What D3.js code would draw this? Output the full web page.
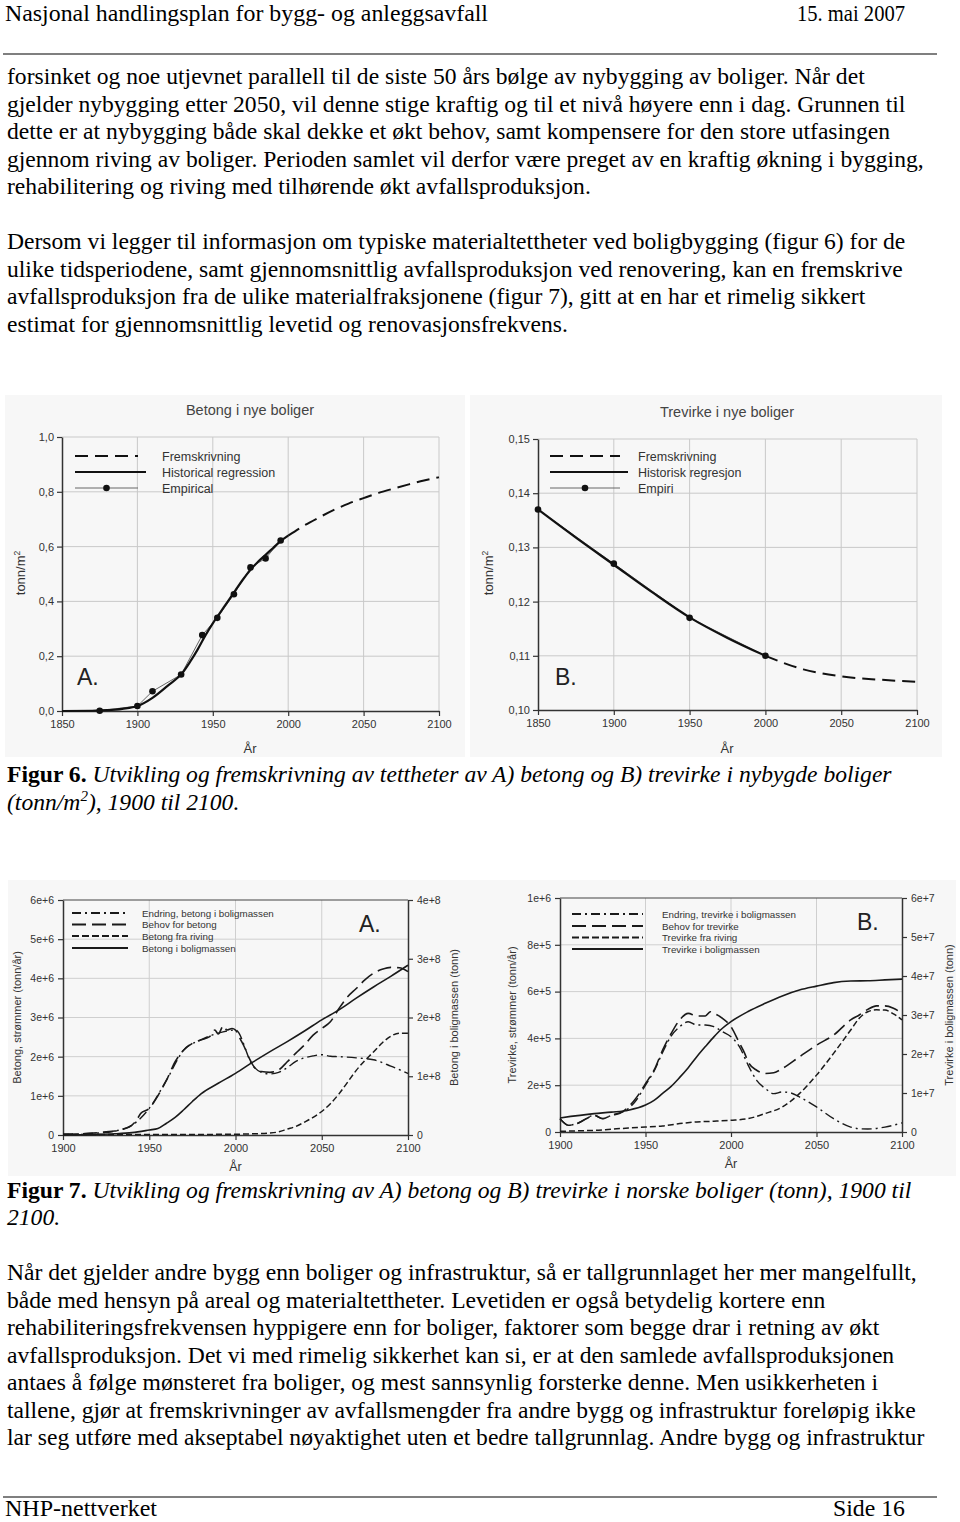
<!DOCTYPE html>
<html><head><meta charset="utf-8">
<script src="https://cdn.jsdelivr.net/npm/d3@7"></script>
<style>body{margin:0;background:#fff} svg{display:block}</style>
</head><body><svg id="page" width="960" height="1522"></svg>
<script>
// ---------- text content ----------
const headerLeft = "Nasjonal handlingsplan for bygg- og anleggsavfall";
const headerRight = "15. mai 2007";
const footerLeft = "NHP-nettverket";
const footerRight = "Side 16";
const para1 = [
  "forsinket og noe utjevnet parallell til de siste 50 års bølge av nybygging av boliger. Når det",
  "gjelder nybygging etter 2050, vil denne stige kraftig og til et nivå høyere enn i dag. Grunnen til",
  "dette er at nybygging både skal dekke et økt behov, samt kompensere for den store utfasingen",
  "gjennom riving av boliger. Perioden samlet vil derfor være preget av en kraftig økning i bygging,",
  "rehabilitering og riving med tilhørende økt avfallsproduksjon."
];
const para2 = [
  "Dersom vi legger til informasjon om typiske materialtettheter ved boligbygging (figur 6) for de",
  "ulike tidsperiodene, samt gjennomsnittlig avfallsproduksjon ved renovering, kan en fremskrive",
  "avfallsproduksjon fra de ulike materialfraksjonene (figur 7), gitt at en har et rimelig sikkert",
  "estimat for gjennomsnittlig levetid og renovasjonsfrekvens."
];
const para3 = [
  "Når det gjelder andre bygg enn boliger og infrastruktur, så er tallgrunnlaget her mer mangelfullt,",
  "både med hensyn på areal og materialtettheter. Levetiden er også betydelig kortere enn",
  "rehabiliteringsfrekvensen hyppigere enn for boliger, faktorer som begge drar i retning av økt",
  "avfallsproduksjon. Det vi med rimelig sikkerhet kan si, er at den samlede avfallsproduksjonen",
  "antaes å følge mønsteret fra boliger, og mest sannsynlig forsterke denne. Men usikkerheten i",
  "tallene, gjør at fremskrivninger av avfallsmengder fra andre bygg og infrastruktur foreløpig ikke",
  "lar seg utføre med akseptabel nøyaktighet uten et bedre tallgrunnlag. Andre bygg og infrastruktur"
];
const fig6Label = "Figur 6.";
const fig6Line1 = " Utvikling og fremskrivning av tettheter av A) betong og B) trevirke i nybygde boliger";
const fig6Line2 = ["(tonn/m", "2", "), 1900 til 2100."];
const fig7Label = "Figur 7.";
const fig7Line1 = " Utvikling og fremskrivning av A) betong og B) trevirke i norske boliger (tonn), 1900 til";
const fig7Line2 = "2100.";

// ---------- Figure 6 data ----------
const xTicks6 = [1850, 1900, 1950, 2000, 2050, 2100];
const yTicks6A = [0, 0.2, 0.4, 0.6, 0.8, 1.0];
const yTicks6B = [0.10, 0.11, 0.12, 0.13, 0.14, 0.15];

const betongRegYears = [1850,1870,1880,1890,1900,1910,1920,1930,1935,1940,1945,1950,1955,1960,1965,1970,1975,1980,1985,1990,1995,2000];
const betongReg = [0,0.001,0.003,0.008,0.018,0.048,0.092,0.14,0.18,0.225,0.275,0.32,0.36,0.40,0.44,0.48,0.515,0.545,0.57,0.595,0.62,0.64];
const betongProjYears = [2000,2010,2020,2030,2040,2050,2060,2070,2080,2090,2100];
const betongProj = [0.64,0.675,0.705,0.733,0.757,0.777,0.796,0.812,0.827,0.841,0.853];
const betongEmpYears = [1875,1900,1910,1929,1943,1953,1964,1975,1985,1995];
const betongEmp = [0.001,0.018,0.072,0.133,0.277,0.34,0.426,0.524,0.557,0.622];

const trevirkeRegYears = [1850,1875,1900,1925,1950,1975,2000];
const trevirkeReg = [0.137,0.1318,0.1268,0.1218,0.1171,0.1133,0.110];
const trevirkeProjYears = [2000,2025,2050,2075,2100];
const trevirkeProj = [0.110,0.1075,0.1062,0.1056,0.1052];
const trevirkeEmpYears = [1850,1900,1950,2000];
const trevirkeEmp = [0.137,0.127,0.117,0.110];

const legend6A = ["Fremskrivning", "Historical regression", "Empirical"];
const legend6B = ["Fremskrivning", "Historisk regresjon", "Empiri"];

// ---------- Figure 7 data ----------
const xTicks7 = [1900, 1950, 2000, 2050, 2100];
const yTicks7ALeft = [0,1,2,3,4,5,6];      // millioner tonn/år
const yTicks7ARight = [0,1,2,3,4];         // 1e8 tonn
const yTicks7BLeft = [0,200,400,600,800,1000]; // tusen tonn/år
const yTicks7BRight = [0,10,20,30,40,50,60];   // millioner tonn

// A: betong (strømmer i mill. tonn/år, boligmasse i 1e8 tonn)
const betongBehovYears = [1900,1910,1920,1925,1930,1935,1940,1943,1945,1950,1955,1960,1965,1970,1975,1980,1985,1988,1990,1993,1995,1998,2000,2003,2005,2008,2010,2015,2020,2025,2030,2035,2040,2045,2050,2055,2060,2065,2070,2075,2080,2085,2090,2095,2100];
const betongBehov = [0.02,0.03,0.06,0.08,0.1,0.15,0.25,0.4,0.55,0.68,1.0,1.4,1.87,2.17,2.34,2.43,2.51,2.68,2.58,2.79,2.68,2.72,2.68,2.43,2.26,1.96,1.79,1.62,1.6,1.66,1.87,2.09,2.3,2.55,2.72,2.89,3.23,3.53,3.74,3.96,4.13,4.23,4.28,4.27,4.17];
const betongEndringYears = [1900,1920,1930,1940,1950,1960,1970,1980,1990,2000,2010,2015,2020,2025,2030,2035,2040,2045,2050,2055,2060,2070,2080,2090,2100];
const betongEndring = [0.02,0.05,0.1,0.25,0.68,1.4,2.17,2.43,2.6,2.68,1.77,1.6,1.56,1.6,1.72,1.88,1.97,2.02,2.05,2.01,2.0,1.97,1.92,1.76,1.57];
const betongRivingYears = [1900,1950,2000,2010,2020,2025,2030,2035,2040,2045,2050,2055,2060,2065,2070,2075,2080,2085,2090,2095,2100];
const betongRiving = [0.01,0.01,0.02,0.03,0.05,0.08,0.15,0.22,0.33,0.45,0.6,0.8,1.05,1.35,1.65,1.9,2.12,2.35,2.52,2.6,2.6];
const betongMasseYears = [1900,1910,1920,1930,1940,1950,1955,1960,1965,1970,1975,1980,1990,2000,2010,2020,2030,2040,2050,2060,2070,2080,2090,2100];
const betongMasse = [0,0.005,0.01,0.02,0.04,0.085,0.11,0.2,0.3,0.43,0.57,0.7,0.88,1.05,1.24,1.42,1.59,1.77,1.96,2.13,2.33,2.52,2.7,2.89];

// B: trevirke (strømmer i tusen tonn/år, boligmasse i mill. tonn)
const trevirkeBehovYears = [1900,1905,1910,1915,1920,1925,1930,1935,1940,1945,1950,1955,1960,1965,1970,1975,1980,1985,1988,1990,1995,2000,2005,2008,2010,2015,2020,2025,2030,2040,2050,2060,2070,2075,2080,2085,2090,2095,2100];
const trevirkeBehov = [57,29,36,55,71,57,71,80,107,150,207,264,350,421,479,507,496,496,514,507,486,450,379,336,300,264,250,253,271,321,371,414,479,500,524,539,539,529,507];
const trevirkeEndringYears = [1900,1905,1910,1920,1925,1930,1940,1945,1950,1955,1960,1965,1970,1975,1980,1985,1990,1995,2000,2005,2010,2015,2020,2025,2030,2035,2040,2050,2060,2070,2075,2080,2090,2100];
const trevirkeEndring = [57,29,36,71,57,71,100,140,200,260,340,410,450,471,457,457,450,429,407,364,286,221,186,164,171,167,150,107,57,21,14,13,21,39];
const trevirkeRivingYears = [1900,1910,1920,1930,1940,1950,1960,1970,1980,1990,2000,2010,2020,2030,2040,2050,2060,2070,2075,2080,2085,2090,2095,2100];
const trevirkeRiving = [3,5,7,12,17,21,26,36,43,46,50,57,79,107,164,243,336,436,486,514,522,521,505,479];
const trevirkeMasseYears = [1900,1920,1930,1940,1950,1955,1960,1965,1970,1975,1980,1985,1990,1995,2000,2010,2020,2030,2040,2050,2060,2070,2080,2090,2100];
const trevirkeMasse = [3.6,4.7,5.1,5.6,6.9,8.1,9.9,11.7,14.0,16.5,19.3,21.9,24.4,26.6,28.3,30.9,33.0,34.9,36.4,37.4,38.3,38.7,38.8,39.0,39.2];

const legend7A = ["Endring, betong i boligmassen", "Behov for betong", "Betong fra riving", "Betong i boligmassen"];
const legend7B = ["Endring, trevirke i boligmassen", "Behov for trevirke", "Trevirke fra riving", "Trevirke i boligmassen"];

// ---------- drawing ----------
const svg = d3.select("#page");
svg.append("rect").attr("width", 960).attr("height", 1522).attr("fill", "#fff");
const SERIF = "'Liberation Serif', 'Times New Roman', serif";
const SANS = "'Liberation Sans', Arial, sans-serif";
const BODY = 23.6;
const zip = (xs, ys) => xs.map((v, i) => [v, ys[i]]);

// header / footer
svg.append("text").attr("x", 5).attr("y", 21).attr("font-family", SERIF).attr("font-size", 24)
  .attr("textLength", 483).attr("lengthAdjust", "spacingAndGlyphs").text(headerLeft);
svg.append("text").attr("x", 797).attr("y", 21).attr("font-family", SERIF).attr("font-size", 24)
  .attr("textLength", 108).attr("lengthAdjust", "spacingAndGlyphs").text(headerRight);
svg.append("line").attr("x1", 3).attr("x2", 937).attr("y1", 54).attr("y2", 54).attr("stroke", "#555").attr("stroke-width", 1.5);
svg.append("line").attr("x1", 3).attr("x2", 937).attr("y1", 1497).attr("y2", 1497).attr("stroke", "#555").attr("stroke-width", 1.5);
svg.append("text").attr("x", 5).attr("y", 1516).attr("font-family", SERIF).attr("font-size", 23)
  .attr("textLength", 152).attr("lengthAdjust", "spacingAndGlyphs").text(footerLeft);
svg.append("text").attr("x", 833).attr("y", 1516).attr("font-family", SERIF).attr("font-size", 23)
  .attr("textLength", 72).attr("lengthAdjust", "spacingAndGlyphs").text(footerRight);

function drawPara(lines, y0) {
  svg.append("g").selectAll("text").data(lines).join("text")
    .attr("x", 7).attr("y", (d, i) => y0 + i * 27.5)
    .attr("font-family", SERIF).attr("font-size", BODY).attr("fill", "#000").text(d => d);
}
drawPara(para1, 84);
drawPara(para2, 249);
drawPara(para3, 1280);

function caption(label, rest, y) {
  const t = svg.append("text").attr("x", 7).attr("y", y).attr("font-family", SERIF).attr("font-size", BODY);
  t.append("tspan").attr("font-weight", "bold").text(label);
  t.append("tspan").attr("font-style", "italic").text(rest);
  return t;
}
caption(fig6Label, fig6Line1, 782);
{
  const t = svg.append("text").attr("x", 7).attr("y", 809.5).attr("font-family", SERIF).attr("font-size", BODY).attr("font-style", "italic");
  t.append("tspan").text(fig6Line2[0]);
  t.append("tspan").attr("dy", -9).attr("font-size", 15).text(fig6Line2[1]);
  t.append("tspan").attr("dy", 9).text(fig6Line2[2]);
}
caption(fig7Label, fig7Line1, 1197.5);
svg.append("text").attr("x", 7).attr("y", 1225).attr("font-family", SERIF).attr("font-size", BODY)
  .attr("font-style", "italic").text(fig7Line2);

// image backgrounds
svg.append("rect").attr("x", 5).attr("y", 395).attr("width", 460).attr("height", 362).attr("fill", "#f7f7f7");
svg.append("rect").attr("x", 470).attr("y", 395).attr("width", 472).attr("height", 362).attr("fill", "#f7f7f7");
svg.append("rect").attr("x", 8).attr("y", 880).attr("width", 948).attr("height", 296).attr("fill", "#f7f7f7");

function styleAxis(a, size) {
  a.attr("font-family", SANS).attr("font-size", size);
  a.select(".domain").attr("stroke", "#333").attr("stroke-width", 1.5);
  a.selectAll(".tick line").attr("stroke", "#333").attr("stroke-width", 1.2);
  a.selectAll(".tick text").attr("fill", "#333");
}

function drawDensity(c) {
  const g = svg.append("g");
  const x = d3.scaleLinear().domain([1850, 2100]).range([c.l, c.r]);
  const y = d3.scaleLinear().domain(c.yDomain).range([c.b, c.t]);
  g.append("g").selectAll("line").data(c.xTicks.slice(1)).join("line")
    .attr("x1", d => x(d)).attr("x2", d => x(d)).attr("y1", c.t).attr("y2", c.b)
    .attr("stroke", "#c9c9c9").attr("stroke-width", 1);
  g.append("g").selectAll("line").data(c.yTicks.slice(1)).join("line")
    .attr("x1", c.l).attr("x2", c.r).attr("y1", d => y(d)).attr("y2", d => y(d))
    .attr("stroke", "#c9c9c9").attr("stroke-width", 1);
  const xa = g.append("g").attr("transform", `translate(0,${c.b})`)
    .call(d3.axisBottom(x).tickValues(c.xTicks).tickFormat(d3.format("d")).tickSize(5).tickSizeOuter(0).tickPadding(4));
  styleAxis(xa, 11);
  const ya = g.append("g").attr("transform", `translate(${c.l},0)`)
    .call(d3.axisLeft(y).tickValues(c.yTicks).tickFormat(c.yFmt).tickSize(5).tickSizeOuter(0).tickPadding(3));
  styleAxis(ya, 11);

  const lineC = d3.line().x(d => x(d[0])).y(d => y(d[1])).curve(d3.curveMonotoneX);
  const lineL = d3.line().x(d => x(d[0])).y(d => y(d[1]));
  g.append("path").attr("d", lineL(c.emp)).attr("fill", "none").attr("stroke", "#666").attr("stroke-width", 1);
  g.append("path").attr("d", lineC(c.reg)).attr("fill", "none").attr("stroke", "#111").attr("stroke-width", 2.2);
  g.append("path").attr("d", lineC(c.proj)).attr("fill", "none").attr("stroke", "#111").attr("stroke-width", 2)
    .attr("stroke-dasharray", "13,7");
  g.append("g").selectAll("circle").data(c.emp).join("circle")
    .attr("cx", d => x(d[0])).attr("cy", d => y(d[1])).attr("r", 3.3).attr("fill", "#111");

  g.append("text").attr("x", c.titleX).attr("y", c.t - 22).attr("text-anchor", "middle")
    .attr("font-family", SANS).attr("font-size", 14.5).attr("fill", "#444").text(c.title);
  g.append("text").attr("x", c.titleX).attr("y", 753).attr("text-anchor", "middle")
    .attr("font-family", SANS).attr("font-size", 13).attr("fill", "#333").text("År");
  const yl = g.append("text").attr("transform", `translate(${c.ylX},573) rotate(-90)`).attr("text-anchor", "middle")
    .attr("font-family", SANS).attr("font-size", 13).attr("fill", "#333");
  yl.append("tspan").text("tonn/m");
  yl.append("tspan").attr("dy", -5).attr("font-size", 8.5).text("2");
  g.append("text").attr("x", c.letterX).attr("y", 685).attr("font-family", SANS).attr("font-size", 23)
    .attr("fill", "#222").text(c.letter);

  const ly = [456, 472, 488];
  g.append("line").attr("x1", c.lgX1).attr("x2", c.lgX2).attr("y1", ly[0]).attr("y2", ly[0])
    .attr("stroke", "#111").attr("stroke-width", 2).attr("stroke-dasharray", "13,7");
  g.append("line").attr("x1", c.lgX1).attr("x2", c.lgX2 + 8).attr("y1", ly[1]).attr("y2", ly[1])
    .attr("stroke", "#111").attr("stroke-width", 2);
  g.append("line").attr("x1", c.lgX1).attr("x2", c.lgX2).attr("y1", ly[2]).attr("y2", ly[2])
    .attr("stroke", "#666").attr("stroke-width", 1);
  g.append("circle").attr("cx", (c.lgX1 + c.lgX2) / 2).attr("cy", ly[2]).attr("r", 3.3).attr("fill", "#111");
  g.append("g").selectAll("text").data(c.legend).join("text")
    .attr("x", c.lgText).attr("y", (d, i) => ly[i] + 4.5)
    .attr("font-family", SANS).attr("font-size", 12.5).attr("fill", "#333").text(d => d);
}

drawDensity({
  l: 62, r: 439, t: 437, b: 711, yDomain: [0, 1.0], xTicks: xTicks6, yTicks: yTicks6A,
  yFmt: d => d3.format(".1f")(d).replace(".", ","),
  reg: zip(betongRegYears, betongReg), proj: zip(betongProjYears, betongProj), emp: zip(betongEmpYears, betongEmp),
  title: "Betong i nye boliger", titleX: 250, ylX: 25, letter: "A.", letterX: 77,
  lgX1: 75, lgX2: 138, lgText: 162, legend: legend6A
});
drawDensity({
  l: 538, r: 917, t: 439, b: 710, yDomain: [0.10, 0.15], xTicks: xTicks6, yTicks: yTicks6B,
  yFmt: d => d3.format(".2f")(d).replace(".", ","),
  reg: zip(trevirkeRegYears, trevirkeReg), proj: zip(trevirkeProjYears, trevirkeProj), emp: zip(trevirkeEmpYears, trevirkeEmp),
  title: "Trevirke i nye boliger", titleX: 727, ylX: 493, letter: "B.", letterX: 555,
  lgX1: 550, lgX2: 620, lgText: 638, legend: legend6B
});

function drawFlows(c) {
  const g = svg.append("g");
  const x = d3.scaleLinear().domain([1900, 2100]).range([c.l, c.r]);
  const yL = d3.scaleLinear().domain(c.yLDomain).range([c.b, c.t]);
  const yR = d3.scaleLinear().domain(c.yRDomain).range([c.b, c.t]);
  g.append("g").selectAll("line").data(xTicks7.slice(1, -1)).join("line")
    .attr("x1", d => x(d)).attr("x2", d => x(d)).attr("y1", c.t).attr("y2", c.b)
    .attr("stroke", "#cfcfcf").attr("stroke-width", 1);
  g.append("g").selectAll("line").data(c.yLTicks.slice(1, -1)).join("line")
    .attr("x1", c.l).attr("x2", c.r).attr("y1", d => yL(d)).attr("y2", d => yL(d))
    .attr("stroke", "#cfcfcf").attr("stroke-width", 1);
  g.append("line").attr("x1", c.l).attr("x2", c.r).attr("y1", c.t).attr("y2", c.t).attr("stroke", "#444").attr("stroke-width", 1.2);
  const xa = g.append("g").attr("transform", `translate(0,${c.b})`)
    .call(d3.axisBottom(x).tickValues(xTicks7).tickFormat(d3.format("d")).tickSize(5).tickSizeOuter(0).tickPadding(4));
  styleAxis(xa, 11);
  const ya = g.append("g").attr("transform", `translate(${c.l},0)`)
    .call(d3.axisLeft(yL).tickValues(c.yLTicks).tickFormat(c.yLFmt).tickSize(5).tickSizeOuter(0).tickPadding(4));
  styleAxis(ya, 10.5);
  const yb = g.append("g").attr("transform", `translate(${c.r},0)`)
    .call(d3.axisRight(yR).tickValues(c.yRTicks).tickFormat(c.yRFmt).tickSize(5).tickSizeOuter(0).tickPadding(4));
  styleAxis(yb, 10.5);

  const lineL = d3.line().x(d => x(d[0])).y(d => yL(d[1])).curve(d3.curveMonotoneX);
  const lineR = d3.line().x(d => x(d[0])).y(d => yR(d[1])).curve(d3.curveMonotoneX);
  const styles = [
    { dash: "10,4,2,4", w: 1.4 },
    { dash: "14,6", w: 1.6 },
    { dash: "6,3", w: 1.5 },
    { dash: null, w: 1.6 }
  ];
  const paths = [lineL(c.endring), lineL(c.behov), lineL(c.riving), lineR(c.masse)];
  paths.forEach((p, i) => {
    const el = g.append("path").attr("d", p).attr("fill", "none").attr("stroke", "#1a1a1a").attr("stroke-width", styles[i].w);
    if (styles[i].dash) el.attr("stroke-dasharray", styles[i].dash);
  });

  const ly = c.legY;
  const lstyles = ["9,4,2,4", "14,6", "7,3", null];
  c.legend.forEach((txt, i) => {
    const ln = g.append("line").attr("x1", c.lgX1).attr("x2", c.lgX2).attr("y1", ly[i]).attr("y2", ly[i])
      .attr("stroke", "#1a1a1a").attr("stroke-width", 2);
    if (lstyles[i]) ln.attr("stroke-dasharray", lstyles[i]);
    g.append("text").attr("x", c.lgText).attr("y", ly[i] + 3.5).attr("font-family", SANS).attr("font-size", 9.8)
      .attr("fill", "#333").text(txt);
  });
  g.append("text").attr("x", c.letterX).attr("y", c.t + 32).attr("font-family", SANS).attr("font-size", 23)
    .attr("fill", "#222").text(c.letter);
  g.append("text").attr("x", (c.l + c.r) / 2).attr("y", c.b + 36).attr("text-anchor", "middle")
    .attr("font-family", SANS).attr("font-size", 12.5).attr("fill", "#333").text("År");
  g.append("text").attr("transform", `translate(${c.ylLX},${(c.t + c.b) / 2}) rotate(-90)`).attr("text-anchor", "middle")
    .attr("font-family", SANS).attr("font-size", 11).attr("fill", "#333").text(c.yLLabel);
  g.append("text").attr("transform", `translate(${c.ylRX},${(c.t + c.b) / 2}) rotate(-90)`).attr("text-anchor", "middle")
    .attr("font-family", SANS).attr("font-size", 11).attr("fill", "#333").text(c.yRLabel);
}

const sci = k => d => d === 0 ? "0" : d3.format(".0e")(d * k);

drawFlows({
  l: 63, r: 408, t: 900, b: 1135,
  yLDomain: [0, 6], yRDomain: [0, 4], yLTicks: yTicks7ALeft, yRTicks: yTicks7ARight,
  yLFmt: sci(1e6), yRFmt: sci(1e8),
  endring: zip(betongEndringYears, betongEndring), behov: zip(betongBehovYears, betongBehov),
  riving: zip(betongRivingYears, betongRiving), masse: zip(betongMasseYears, betongMasse),
  legend: legend7A, legY: [913, 924.5, 936, 948], lgX1: 72, lgX2: 128, lgText: 142,
  letter: "A.", letterX: 359,
  yLLabel: "Betong, strømmer (tonn/år)", yRLabel: "Betong i boligmassen (tonn)", ylLX: 21, ylRX: 458
});
drawFlows({
  l: 560, r: 902, t: 898, b: 1132,
  yLDomain: [0, 1000], yRDomain: [0, 60], yLTicks: yTicks7BLeft, yRTicks: yTicks7BRight,
  yLFmt: sci(1e3), yRFmt: sci(1e6),
  endring: zip(trevirkeEndringYears, trevirkeEndring), behov: zip(trevirkeBehovYears, trevirkeBehov),
  riving: zip(trevirkeRivingYears, trevirkeRiving), masse: zip(trevirkeMasseYears, trevirkeMasse),
  legend: legend7B, legY: [914, 926, 937.5, 949], lgX1: 572, lgX2: 643, lgText: 662,
  letter: "B.", letterX: 857,
  yLLabel: "Trevirke, strømmer (tonn/år)", yRLabel: "Trevirke i boligmassen (tonn)", ylLX: 516, ylRX: 953
});
</script></body></html>
